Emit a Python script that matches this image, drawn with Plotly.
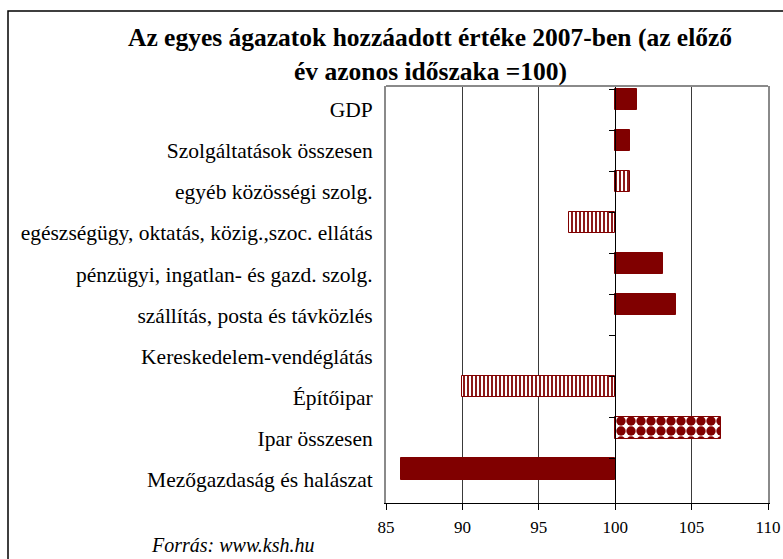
import plotly.graph_objects as go

categories = [
    "GDP",
    "Szolgáltatások összesen",
    "egyéb közösségi szolg.",
    "egészségügy, oktatás, közig.,szoc. ellátás",
    "pénzügyi, ingatlan- és gazd. szolg.",
    "szállítás, posta és távközlés",
    "Kereskedelem-vendéglátás",
    "Építőipar",
    "Ipar összesen",
    "Mezőgazdaság és halászat",
]
values = [101.4, 101.0, 101.0, 97.0, 103.1, 104.0, 100.0, 90.0, 106.9, 86.0]
patterns = ["", "", "|", "|", "", "", "", "|", ".", ""]
x_ticks = [85, 90, 95, 100, 105, 110]

BASE = 100
DARK_RED = "#800000"
SERIF = "Liberation Serif, Times New Roman, serif"

fig = go.Figure()

fig.add_trace(go.Bar(
    y=categories,
    x=[v - BASE for v in values],
    base=BASE,
    orientation="h",
    width=0.53,
    offset=-0.52,
    marker=dict(
        color=DARK_RED,
        line=dict(color=DARK_RED, width=[0 if v == BASE else 1 for v in values]),
        pattern=dict(
            shape=patterns,
            fgcolor=DARK_RED,
            bgcolor="white",
            size=[4 if p == "|" else 10 for p in patterns],
            solidity=[0.45 if p == "|" else 0.7 for p in patterns],
            fillmode="replace",
        ),
    ),
    hoverinfo="skip",
    showlegend=False,
    yaxis="y",
))

# invisible helper trace so the category axis crossing at 100 is drawn
fig.add_trace(go.Scatter(
    y=categories,
    x=[BASE] * len(categories),
    mode="markers",
    marker=dict(size=1, opacity=0),
    hoverinfo="skip",
    showlegend=False,
    yaxis="y2",
))

x_lo, x_hi = x_ticks[0], x_ticks[-1]

fig.update_layout(
    width=783,
    height=559,
    margin=dict(l=386, r=15, t=86, b=56, autoexpand=False),
    paper_bgcolor="white",
    plot_bgcolor="white",
    font=dict(family=SERIF, color="black"),
    bargap=0,
    xaxis=dict(
        range=[x_lo, x_hi],
        tickvals=x_ticks,
        ticktext=[str(t) for t in x_ticks],
        showgrid=True,
        gridcolor="#3a3a3a",
        gridwidth=1,
        zeroline=False,
        showline=True,
        linecolor="black",
        linewidth=1,
        ticks="outside",
        ticklen=6,
        tickcolor="black",
        ticklabelstandoff=3,
        tickfont=dict(family=SERIF, size=17),
        automargin=False,
        fixedrange=True,
    ),
    yaxis=dict(
        type="category",
        categoryorder="array",
        categoryarray=categories,
        autorange="reversed",
        showgrid=False,
        showline=True,
        mirror=True,
        linecolor="#8a8a8a",
        linewidth=2,
        ticks="",
        ticklabelstandoff=7,
        tickfont=dict(family=SERIF, size=21.5),
        automargin=False,
        fixedrange=True,
    ),
    yaxis2=dict(
        type="category",
        categoryorder="array",
        categoryarray=categories,
        matches="y",
        overlaying="y",
        anchor="free",
        position=(BASE - x_lo) / (x_hi - x_lo),
        side="left",
        showgrid=False,
        showline=True,
        linecolor="black",
        linewidth=1,
        ticks="outside",
        tickson="boundaries",
        ticklen=6,
        tickcolor="black",
        showticklabels=False,
        automargin=False,
        fixedrange=True,
    ),
    shapes=[
        dict(type="line", xref="paper", yref="paper", x0=0, x1=1, y0=1, y1=1,
             line=dict(color="#8a8a8a", width=2)),
        dict(type="rect", xref="paper", yref="paper",
             x0=(8 - 386) / 382, x1=(800 - 386) / 382,
             y0=(503 - 575) / 417, y1=(503 - 11) / 417,
             line=dict(color="black", width=1.5), fillcolor="rgba(0,0,0,0)"),
    ],
    annotations=[
        dict(text="<b>Az egyes ágazatok hozzáadott értéke 2007-ben (az előző</b>",
             xref="paper", yref="paper", x=(430 - 386) / 382, y=(503 - 37) / 417,
             xanchor="center", yanchor="middle", showarrow=False,
             font=dict(family=SERIF, size=25.5)),
        dict(text="<b>év azonos időszaka =100)</b>",
             xref="paper", yref="paper", x=(430 - 386) / 382, y=(503 - 71) / 417,
             xanchor="center", yanchor="middle", showarrow=False,
             font=dict(family=SERIF, size=25.5)),
        dict(text="<i>Forrás: www.ksh.hu</i>",
             xref="paper", yref="paper", x=(232 - 386) / 382, y=(503 - 545) / 417,
             xanchor="center", yanchor="middle", showarrow=False,
             font=dict(family=SERIF, size=20)),
    ],
)

fig.write_html(
    "out.html",
    config={"displayModeBar": False},
    post_script="document.body.style.margin='0';",
)
